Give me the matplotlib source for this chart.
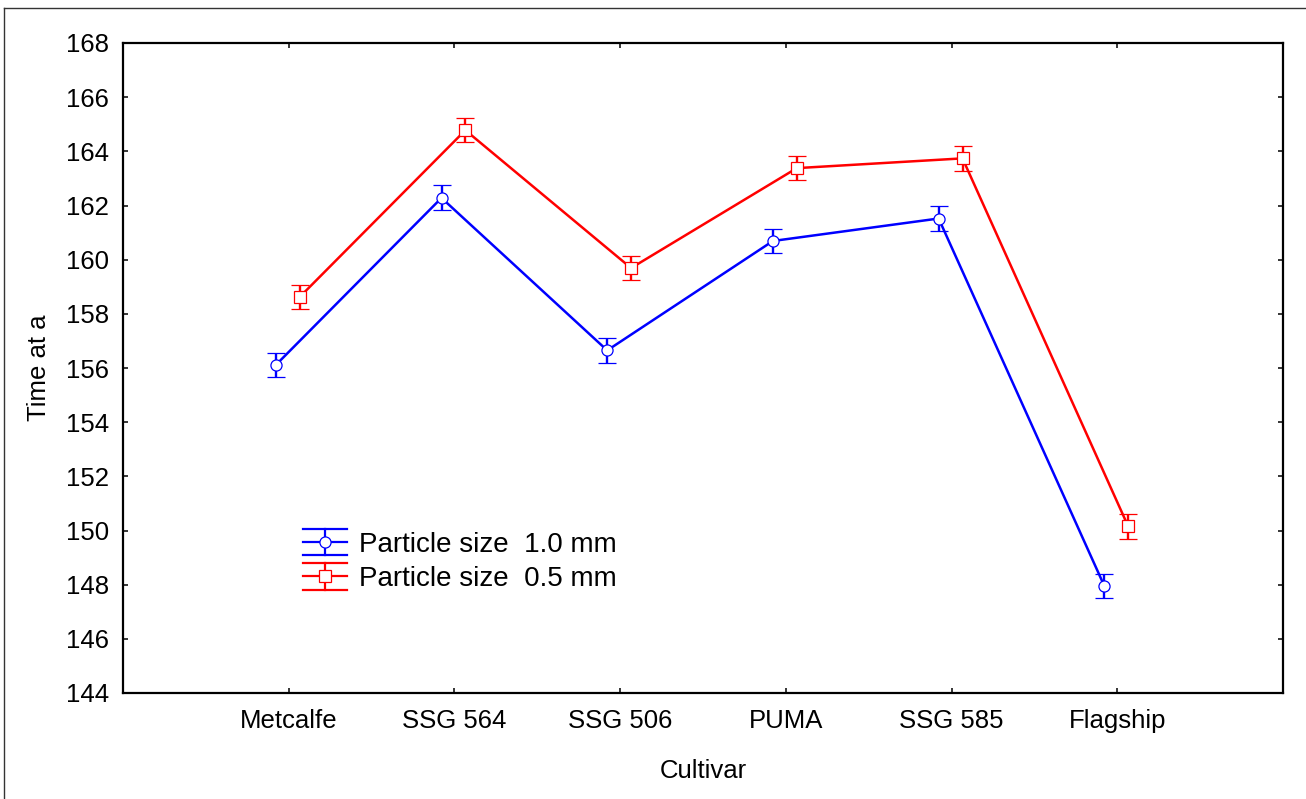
import matplotlib
matplotlib.use("Agg")
import matplotlib.pyplot as plt
from matplotlib.lines import Line2D
from matplotlib.legend_handler import HandlerBase
from matplotlib.container import ErrorbarContainer

plt.rcParams['font.family'] = ['Liberation Sans', 'DejaVu Sans']

cultivars = ["Metcalfe", "SSG 564", "SSG 506", "PUMA", "SSG 585", "Flagship"]
size_10 = [156.11, 162.28, 156.65, 160.69, 161.52, 147.95]
size_10_err = [0.46, 0.46, 0.46, 0.46, 0.46, 0.46]
size_05 = [158.62, 164.78, 159.69, 163.38, 163.74, 150.15]
size_05_err = [0.45, 0.45, 0.45, 0.45, 0.45, 0.46]
labels = ["Particle size  1.0 mm", "Particle size  0.5 mm"]
yticks = [144, 146, 148, 150, 152, 154, 156, 158, 160, 162, 164, 166, 168]

W, H = 1306, 799
fig = plt.figure(figsize=(W / 100, H / 100), dpi=100)
ax = fig.add_axes([123 / W, 1 - 693 / H, (1283 - 123) / W, (693 - 43) / H])

x = list(range(len(cultivars)))
off_b, off_r = -0.078, 0.066
xb = [i + off_b for i in x]
xr = [i + off_r for i in x]

common = dict(capsize=6.5, capthick=1.7, elinewidth=1.7, lw=1.8,
              markersize=8, markerfacecolor='white', markeredgewidth=0.9)
eb1 = ax.errorbar(xb, size_10, yerr=size_10_err, fmt='-o', color='#0000ff',
                  markeredgecolor='#0000ff', **common)
eb2 = ax.errorbar(xr, size_05, yerr=size_05_err, fmt='-s', color='#ff0000',
                  markeredgecolor='#ff0000', **common)

ax.set_xlim(-1, len(cultivars))
ax.set_ylim(144, 168)
ax.set_xticks(x)
ax.set_xticklabels(cultivars)
ax.set_yticks(yticks)
ax.tick_params(direction='in', length=3.5, width=1.1, labelsize=18.5,
               top=True, right=True, colors='black')
ax.tick_params(axis='x', pad=11.5)
ax.tick_params(axis='y', pad=10)
for s in ax.spines.values():
    s.set_linewidth(1.6)
ax.set_xlabel("Cultivar", fontsize=18.5, labelpad=19)
ax.set_ylabel("Time at a", fontsize=18.5, labelpad=11)


class EBHandler(HandlerBase):
    def create_artists(self, legend, orig_handle, xdescent, ydescent,
                       width, height, fontsize, trans):
        ln = orig_handle.lines[0]
        c = ln.get_color()
        cy = height / 2 - ydescent
        x0 = -xdescent
        x1 = -xdescent + width
        cx = (x0 + x1) / 2
        d = 9.4
        arts = []
        for yy in (cy - d, cy, cy + d):
            arts.append(Line2D([x0, x1], [yy, yy], color=c, lw=1.6, transform=trans))
        arts.append(Line2D([cx, cx], [cy - d, cy + d], color=c, lw=1.6, transform=trans))
        arts.append(Line2D([cx], [cy], marker=ln.get_marker(), markersize=8,
                           markerfacecolor='white', markeredgecolor=c,
                           markeredgewidth=0.9, linestyle='none', transform=trans))
        return arts


ax.legend([eb1, eb2], labels, handler_map={ErrorbarContainer: EBHandler()},
          loc='center left', bbox_to_anchor=((303 - 123) / 1160, (693 - 562) / 650),
          frameon=False, fontsize=20, borderpad=0, borderaxespad=0,
          handlelength=1.58, handletextpad=0.45, labelspacing=0.3, handleheight=0.7)

# outer figure border (top and left edges)
fig.add_artist(Line2D([4 / W, 4 / W], [0, 1 - 8 / H], transform=fig.transFigure,
                      color='#333333', lw=1.0))
fig.add_artist(Line2D([4 / W, 1], [1 - 8 / H, 1 - 8 / H], transform=fig.transFigure,
                      color='#333333', lw=1.0))

fig.savefig("out.png", dpi=100)
